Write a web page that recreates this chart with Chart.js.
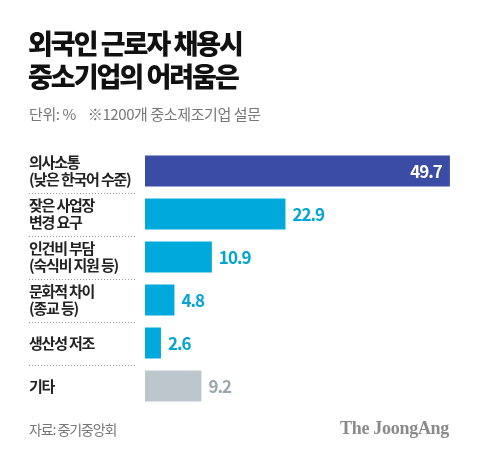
<!DOCTYPE html>
<html>
<head>
<meta charset="utf-8">
<script src="https://cdn.jsdelivr.net/npm/chart.js@4"></script>
<style>
  body { margin: 0; background: #fff; font-family: "Noto Sans CJK KR", sans-serif; }
  #wrap { position: relative; width: 480px; height: 458px; overflow: hidden; }
  canvas { position: absolute; left: 0; top: 0; }
  .title { position: absolute; left: 28px; top: 26px; font-size: 27px; font-weight: 900; line-height: 33px; letter-spacing: -2px; color: #111; }
  .sub { position: absolute; left: 29px; top: 103px; font-size: 15px; letter-spacing: -0.4px; color: #777; }
  .src { position: absolute; left: 29px; top: 419px; font-size: 14px; letter-spacing: -1.1px; color: #777; }
  .logo { position: absolute; right: 31px; top: 418px; font-family: "Liberation Serif", serif; font-weight: bold; font-size: 18px; letter-spacing: -0.3px; color: #8a8a8a; }
</style>
</head>
<body>
<div id="wrap">
  <canvas id="chart" width="480" height="458"></canvas>
  <div class="title">외국인 근로자 채용시<br>중소기업의 어려움은</div>
  <div class="sub">단위: %&nbsp;&nbsp;&nbsp; ※1200개 중소제조기업 설문</div>
  <div class="src">자료: 중기중앙회</div>
  <div class="logo">The JoongAng</div>
</div>
<script>
const categories = [
  ["의사소통", "(낮은 한국어 수준)"],
  ["잦은 사업장", "변경 요구"],
  ["인건비 부담", "(숙식비 지원 등)"],
  ["문화적 차이", "(종교 등)"],
  ["생산성 저조"],
  ["기타"]
];
const values = [49.7, 22.9, 10.9, 4.8, 2.6, 9.2];
const barColors = ["#3a4ca3", "#00a9dc", "#00a9dc", "#00a9dc", "#00a9dc", "#bdc6cc"];
const valueColors = ["#ffffff", "#00a4d6", "#00a4d6", "#00a4d6", "#00a4d6", "#9ba6ae"];

// labels, dotted separators and numbers drawn from the scale positions
const decorate = {
  id: "decorate",
  afterDatasetsDraw(chart) {
    const ctx = chart.ctx;
    const y = chart.scales.y;
    const bars = chart.getDatasetMeta(0).data;
    ctx.save();

    // category labels
    ctx.font = "600 15px 'Noto Sans CJK KR'";
    ctx.letterSpacing = "-1.2px";
    ctx.fillStyle = "#222";
    ctx.textAlign = "left";
    ctx.textBaseline = "middle";
    categories.forEach((lines, i) => {
      const cy = y.getPixelForValue(i);
      const lh = 17.5;
      const start = cy - (lines.length - 1) * lh / 2;
      lines.forEach((l, k) => ctx.fillText(l, 29, start + k * lh));
    });

    // dotted separators between categories
    ctx.strokeStyle = "#9a9a9a";
    ctx.lineWidth = 1;
    ctx.setLineDash([1, 2]);
    for (let i = 0; i < categories.length - 1; i++) {
      const sy = Math.round((y.getPixelForValue(i) + y.getPixelForValue(i + 1)) / 2) + 0.5;
      ctx.beginPath();
      ctx.moveTo(29, sy);
      ctx.lineTo(136, sy);
      ctx.stroke();
    }
    ctx.setLineDash([]);

    // values
    ctx.font = "bold 17px 'Noto Sans CJK KR'";
    ctx.letterSpacing = "-1px";
    bars.forEach((bar, i) => {
      ctx.fillStyle = valueColors[i];
      const txt = values[i].toFixed(1);
      if (i === 0) {
        ctx.textAlign = "right";
        ctx.fillText(txt, bar.x - 8, bar.y + 1);
      } else {
        ctx.textAlign = "left";
        ctx.fillText(txt, bar.x + 7, bar.y + 1);
      }
    });
    ctx.restore();
  }
};

new Chart(document.getElementById("chart"), {
  type: "bar",
  data: {
    labels: categories,
    datasets: [{
      data: values,
      backgroundColor: barColors,
      borderWidth: 0,
      barPercentage: 0.72,
      categoryPercentage: 1
    }]
  },
  options: {
    indexAxis: "y",
    responsive: false,
    animation: false,
    layout: { padding: { left: 145, right: 16, top: 149.5, bottom: 50.5 } },
    plugins: { legend: { display: false }, tooltip: { enabled: false } },
    scales: {
      x: { display: false, min: 0, max: 52 },
      y: { display: false }
    }
  },
  plugins: [decorate]
});
</script>
</body>
</html>
